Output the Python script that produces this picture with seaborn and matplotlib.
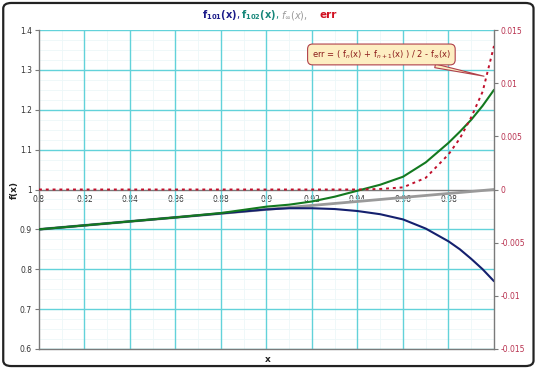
import pandas as pd
import matplotlib
matplotlib.use("Agg")
import matplotlib.pyplot as plt
import seaborn as sns
from matplotlib.patches import FancyBboxPatch

# --- data ---
x_vals = [0.80, 0.82, 0.84, 0.86, 0.88, 0.90, 0.91, 0.92, 0.93, 0.94,
          0.95, 0.96, 0.97, 0.98, 0.985, 0.99, 0.995, 1.00]
f_inf = [0.900, 0.910, 0.920, 0.930, 0.940, 0.950, 0.955, 0.960, 0.965, 0.970,
         0.975, 0.980, 0.985, 0.990, 0.9925, 0.995, 0.9975, 1.000]
f_101 = [0.900, 0.910, 0.920, 0.930, 0.940, 0.950, 0.953, 0.953, 0.951, 0.946,
         0.938, 0.925, 0.902, 0.870, 0.850, 0.826, 0.800, 0.770]
f_102 = [0.900, 0.910, 0.920, 0.930, 0.941, 0.957, 0.962, 0.970, 0.982, 0.997,
         1.012, 1.032, 1.068, 1.117, 1.145, 1.175, 1.210, 1.250]
err = [0, 0, 0, 0, 0, 0, 0, 0, 0, 0.0,
       0.00005, 0.0002, 0.0011, 0.0033, 0.0048, 0.0068, 0.0092, 0.0135]

x_ticks = [0.8, 0.82, 0.84, 0.86, 0.88, 0.9, 0.92, 0.94, 0.96, 0.98]
x_labels = ["0.8", "0.82", "0.84", "0.86", "0.88", "0.9", "0.92", "0.94", "0.96", "0.98"]
y_ticks = [0.6, 0.7, 0.8, 0.9, 1.0, 1.1, 1.2, 1.3, 1.4]
y_labels = ["0.6", "0.7", "0.8", "0.9", "1", "1.1", "1.2", "1.3", "1.4"]
err_ticks = [-0.015, -0.01, -0.005, 0, 0.005, 0.01, 0.015]
err_labels = ["-0.015", "-0.01", "-0.005", "0", "0.005", "0.01", "0.015"]

df = pd.DataFrame({"x": x_vals, "f_inf": f_inf, "f_101": f_101,
                   "f_102": f_102, "err": err})

sns.set_style("white")
plt.rcParams["mathtext.fontset"] = "dejavusans"

fig = plt.figure(figsize=(5.4, 3.72), dpi=100)
ax = fig.add_axes([39 / 540, 1 - 349 / 372, 455 / 540, 319 / 372])

# grid
grid_c = "#62d2da"
for xv in x_ticks[1:]:
    ax.axvline(xv, color=grid_c, lw=1.0, zorder=1)
for yv in y_ticks:
    if yv != 1.0:
        ax.axhline(yv, color=grid_c, lw=1.0, zorder=1)
ax.set_xticks([0.8 + 0.01 * i for i in range(21)], minor=True)
ax.set_yticks([0.6 + 0.025 * i for i in range(33)], minor=True)
ax.grid(which="minor", color="#ecf7f9", lw=0.6)
ax.tick_params(which="minor", length=0)

sns.lineplot(data=df, x="x", y="f_inf", ax=ax, color="#9a9a9a", lw=2.0, zorder=3)
sns.lineplot(data=df, x="x", y="f_101", ax=ax, color="#14206e", lw=1.5, zorder=4)
sns.lineplot(data=df, x="x", y="f_102", ax=ax, color="#13791f", lw=1.5, zorder=4)

ax.set_xlim(0.8, 1.0)
ax.set_ylim(0.6, 1.4)
ax.set_xticks(x_ticks)
ax.set_xticklabels(x_labels)
ax.set_yticks(y_ticks)
ax.set_yticklabels(y_labels)
ax.spines["bottom"].set_position(("data", 1.0))
for s in ["top", "right"]:
    ax.spines[s].set_visible(False)
for s in ["left", "bottom"]:
    ax.spines[s].set_color("#7a7a7a")
    ax.spines[s].set_linewidth(1.0)
ax.tick_params(axis="x", direction="out", length=2, labelsize=5.5,
               colors="#7a7a7a", labelcolor="#333333", pad=2)
ax.tick_params(axis="y", direction="out", length=3, labelsize=5.5,
               colors="#7a7a7a", labelcolor="#333333", pad=2)
ax.set_xlabel("")
ax.set_ylabel("")

# secondary axis for err
ax2 = ax.twinx()
sns.lineplot(data=df, x="x", y="err", ax=ax2, color="#c0102c", lw=1.4,
             linestyle=(0, (1.5, 2.0)), zorder=5)
ax2.set_ylim(-0.015, 0.015)
ax2.set_yticks(err_ticks)
ax2.set_yticklabels(err_labels)
ax2.set_ylabel("")
ax2.spines["top"].set_visible(False)
ax2.spines["left"].set_visible(False)
for s in ["right", "bottom"]:
    ax2.spines[s].set_color("#7a7a7a")
    ax2.spines[s].set_linewidth(1.0)
ax2.tick_params(axis="y", direction="out", length=3, labelsize=5.5,
                colors="#7a7a7a", labelcolor="#b8304e", pad=2)

# callout
ax2.annotate(r"err = ( f$_n$(x) + f$_{n+1}$(x) ) / 2 - f$_\infty$(x)",
             xy=(0.9968, 0.0106), xytext=(0.9505, 0.0127),
             fontsize=6, color="#8b1a1a", ha="center", va="center",
             bbox=dict(boxstyle="round,pad=0.5,rounding_size=0.6",
                       fc="#fdeec2", ec="#b0404a", lw=0.8),
             arrowprops=dict(arrowstyle="wedge,tail_width=0.45,shrink_factor=0.5",
                             fc="#fdeec2", ec="#b0404a", lw=0.8),
             zorder=6)

# axis labels
fig.text(14 / 540, 1 - 190 / 372, "f(x)", rotation=90, fontsize=6.5,
         fontweight="bold", ha="center", va="center", color="#222222")
fig.text(268 / 540, 1 - 359 / 372, "x", fontsize=6.5, fontweight="bold",
         ha="center", va="center", color="#222222")

# coloured title, pieces chained left to right
ty = 1 - 15 / 372
t1 = fig.text(202 / 540, ty, r"$\mathbf{f_{101}(x)},$", color="#1c1c8a",
              fontsize=7, ha="left", va="center")
t2 = fig.text(0, 0, r"$\mathbf{f_{102}(x)},$", color="#17877a", fontsize=7,
              ha="left", va="center")
t3 = fig.text(0, 0, r"$f_{\infty}(x),$", color="#9a9a9a", fontsize=7,
              ha="left", va="center")
fig.canvas.draw()
r = fig.canvas.get_renderer()
bb1 = t1.get_window_extent(r)
t2.set_position((bb1.x1 / 540 + 0.002, ty))
bb2 = t2.get_window_extent(r)
t3.set_position((bb2.x1 / 540 + 0.002, ty))
fig.text(320 / 540, ty, "err", color="#d01020", fontsize=7.5,
         fontweight="bold", ha="left", va="center")

# rounded frame around the whole picture
frame = FancyBboxPatch((0.006, 0.016), 0.982, 0.976,
                       boxstyle="round,pad=0,rounding_size=0.015",
                       transform=fig.transFigure, fc="none",
                       ec="#222222", lw=1.6, zorder=10)
fig.patches.append(frame)

plt.savefig("out.png", dpi=100)
